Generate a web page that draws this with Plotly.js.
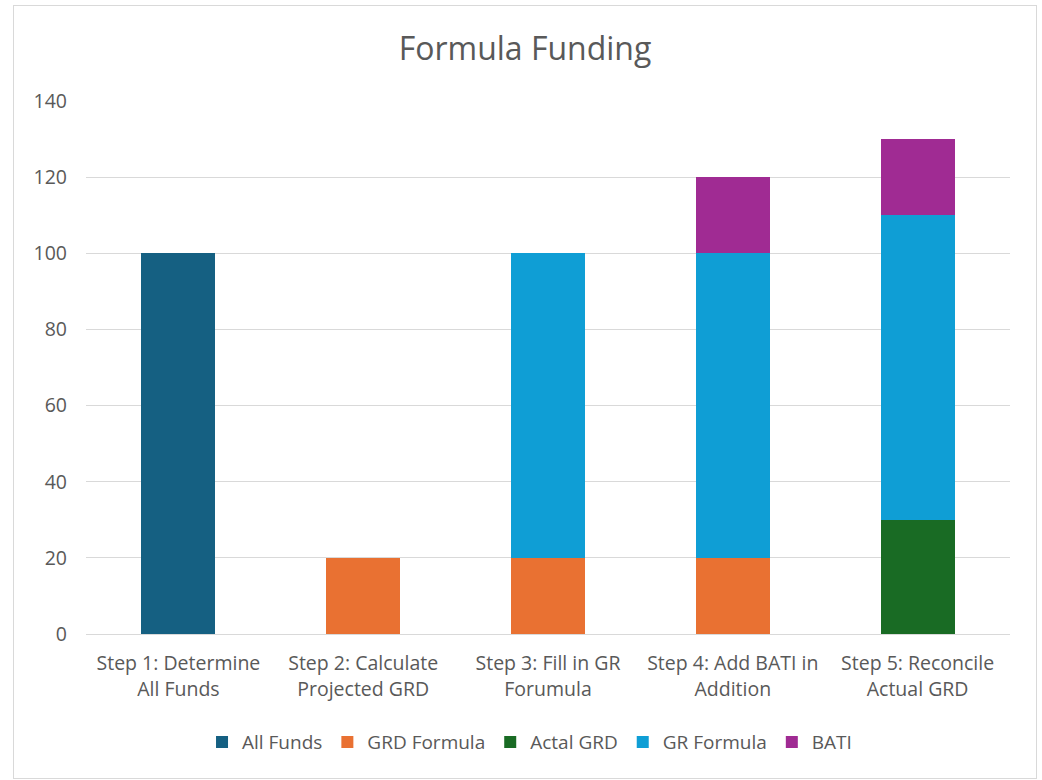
<!DOCTYPE html>
<html>
<head>
<meta charset="utf-8">
<script src="https://cdn.plot.ly/plotly-3.0.1.min.js"></script>
<style>
html,body{margin:0;padding:0;background:#fff;}
#chart{position:absolute;left:13px;top:5px;width:1022px;height:772px;border:1px solid #d9d9d9;}
</style>
</head>
<body>
<div id="chart"></div>
<script>
const categories = [
  "Step 1: Determine<br>All Funds",
  "Step 2: Calculate<br>Projected GRD",
  "Step 3: Fill in GR<br>Forumula",
  "Step 4: Add BATI in<br>Addition",
  "Step 5: Reconcile<br>Actual GRD"
];
const allFunds   = [100, null, null, null, null];
const grdFormula = [null, 20, 20, 20, null];
const actalGRD   = [null, null, null, null, 30];
const grFormula  = [null, null, 80, 80, 80];
const bati       = [null, null, null, 20, 20];

const seriesNames  = ["All Funds", "GRD Formula", "Actal GRD", "GR Formula", "BATI"];
const seriesValues = [allFunds, grdFormula, actalGRD, grFormula, bati];
const seriesColors = ["#156082", "#e97132", "#196b24", "#0f9ed5", "#a02b93"];

const traces = seriesNames.map((n, i) => ({
  type: "bar",
  name: n,
  x: categories,
  y: seriesValues[i],
  marker: {color: seriesColors[i]},
  hoverinfo: "x+y+name"
}));

const layout = {
  width: 1022,
  height: 772,
  barmode: "stack",
  bargap: 0.6,
  paper_bgcolor: "#ffffff",
  plot_bgcolor: "#ffffff",
  font: {family: "'Open Sans', Lato, sans-serif", color: "#595959", size: 18},
  title: {text: "Formula Funding", font: {size: 32, color: "#595959"}, x: 0.5, xanchor: "center", y: 0.945, yanchor: "middle"},
  margin: {l: 72, r: 26, t: 95, b: 144},
  xaxis: {
    showgrid: false,
    showline: true,
    linecolor: "#d9d9d9",
    linewidth: 1,
    ticks: "",
    ticklabelstandoff: 12,
    tickfont: {size: 19.5, color: "#595959"},
    fixedrange: true
  },
  yaxis: {
    range: [0, 140],
    dtick: 20,
    tick0: 0,
    showgrid: true,
    gridcolor: "#d9d9d9",
    gridwidth: 1,
    zeroline: false,
    showline: false,
    ticks: "",
    ticklabelstandoff: 18,
    tickfont: {size: 19.5, color: "#595959"},
    fixedrange: true
  },
  legend: {
    orientation: "h",
    x: 0.48, xanchor: "center",
    y: -0.203, yanchor: "middle",
    font: {size: 19, color: "#595959"},
    traceorder: "normal",
    itemwidth: 30
  },
  showlegend: true
};

Plotly.newPlot("chart", traces, layout, {displayModeBar: false, staticPlot: true});
</script>
</body>
</html>
